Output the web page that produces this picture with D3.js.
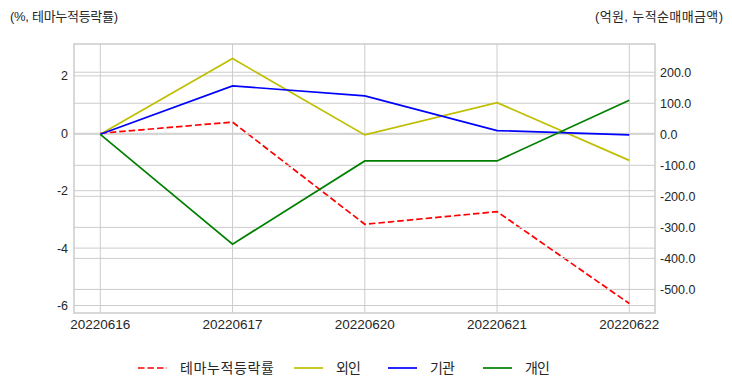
<!DOCTYPE html>
<html><head><meta charset="utf-8">
<script src="https://cdn.jsdelivr.net/npm/d3@7"></script>
<style>
body{margin:0;background:#fff;}
text{font-family:"Liberation Sans","Noto Sans CJK KR",sans-serif;}
</style></head>
<body><svg id="c" width="732" height="392"></svg>
<script>
const dates = ["20220616","20220617","20220620","20220621","20220622"];
const themeReturn = [0, 0.39, -3.17, -2.73, -5.93];
const foreign = [0, 244, -2, 102, -84];
const institution = [0, 156, 124, 12, -2];
const individual = [0, -354, -86, -86, 110];
const leftTicks = [2, 0, -2, -4, -6];
const rightTicks = [200, 100, 0, -100, -200, -300, -400, -500];
const leftTitle = "(%, 테마누적등락률)";
const rightTitle = "(억원, 누적순매매금액)";
const legendNames = ["테마누적등락률","외인","기관","개인"];

const svg = d3.select("#c");
const L=74, R=655, T=44, B=313;
const x = d3.scalePoint().domain(dates).range([100.3, 629.3]);
const yL = d3.scaleLinear().domain([-6.26, 3.11]).range([B, T]);
const yR = d3.scaleLinear().domain([-576, 291]).range([B, T]);
const grid="#cccccc", txt="#262626";
const dash = "6.5,3";

svg.append("g").selectAll("line").data(dates).join("line")
  .attr("x1",d=>x(d)).attr("x2",d=>x(d)).attr("y1",T).attr("y2",B)
  .attr("stroke",grid).attr("stroke-width",1);
svg.append("g").selectAll("line").data(leftTicks).join("line")
  .attr("x1",L).attr("x2",R).attr("y1",d=>yL(d)).attr("y2",d=>yL(d))
  .attr("stroke",grid).attr("stroke-width",1);

const line = (ys, sc) => d3.line().x((d,i)=>x(dates[i])).y(d=>sc(d))(ys);
svg.append("path").attr("d",line(themeReturn,yL)).attr("fill","none")
  .attr("stroke","#ff0000").attr("stroke-width",1.7).attr("stroke-dasharray",dash);

svg.append("g").selectAll("line").data(rightTicks).join("line")
  .attr("x1",L).attr("x2",R).attr("y1",d=>yR(d)).attr("y2",d=>yR(d))
  .attr("stroke",grid).attr("stroke-width",1);

const series = [[foreign,"#bfbf00"],[institution,"#0000ff"],[individual,"#008000"]];
series.forEach(([v,c])=>{
  svg.append("path").attr("d",line(v,yR)).attr("fill","none")
    .attr("stroke",c).attr("stroke-width",1.7);
});

svg.append("rect").attr("x",L).attr("y",T).attr("width",R-L).attr("height",B-T)
  .attr("fill","none").attr("stroke",grid).attr("stroke-width",1.5);

svg.append("g").selectAll("text").data(leftTicks).join("text")
  .attr("x",68).attr("y",d=>yL(d)).attr("dy","0.36em").attr("text-anchor","end")
  .attr("font-size",12.5).attr("fill",txt).text(d=>d);
svg.append("g").selectAll("text").data(rightTicks).join("text")
  .attr("x",660).attr("y",d=>yR(d)).attr("dy","0.36em").attr("text-anchor","start")
  .attr("font-size",12.5).attr("fill",txt).text(d=>d3.format(".1f")(d).replace("−","-"));
svg.append("g").selectAll("text").data(dates).join("text")
  .attr("x",d=>x(d)).attr("y",324).attr("dy","0.36em").attr("text-anchor","middle")
  .attr("font-size",13.5).attr("fill",txt).text(d=>d);

svg.append("text").attr("x",10).attr("y",16).attr("dy","0.36em").attr("font-size",13)
  .attr("fill",txt).attr("textLength",108).attr("lengthAdjust","spacing").text(leftTitle);
svg.append("text").attr("x",595).attr("y",16).attr("dy","0.36em")
  .attr("font-size",13).attr("fill",txt).attr("textLength",128).attr("lengthAdjust","spacing").text(rightTitle);

const legX = [138, 294, 388, 483];
const legW = [94, 25, 25, 25];
const legColors = ["#ff0000","#bfbf00","#0000ff","#008000"];
legendNames.forEach((n,i)=>{
  const g = svg.append("g");
  g.append("line").attr("x1",legX[i]).attr("x2",legX[i]+29).attr("y1",368).attr("y2",368)
    .attr("stroke",legColors[i]).attr("stroke-width",1.7)
    .attr("stroke-dasharray", i===0 ? dash : null);
  g.append("text").attr("x",legX[i]+42).attr("y",368).attr("dy","0.36em")
    .attr("font-size",14).attr("fill",txt).attr("textLength",legW[i]).attr("lengthAdjust","spacing").text(n);
});
</script></body></html>
